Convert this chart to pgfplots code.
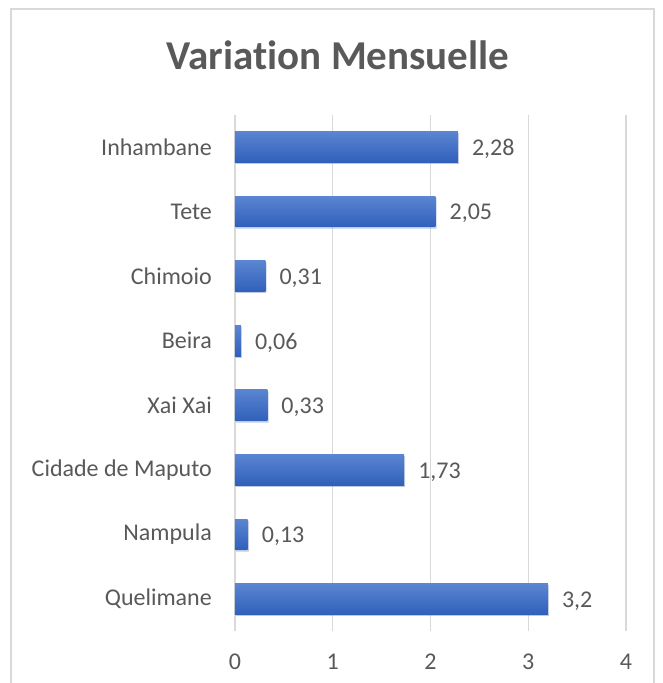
\documentclass[border=0pt]{standalone}
\usepackage{fontspec}
\setmainfont{Carlito}[RawFeature={-liga,-clig,-dlig}]
\usepackage{pgfplots}
\pgfplotsset{compat=1.18}
\usetikzlibrary{shadows}
\definecolor{txt}{HTML}{595959}
\definecolor{gridc}{HTML}{D9D9D9}
\definecolor{bartop}{HTML}{5A85D1}
\definecolor{barbot}{HTML}{3060BB}

\pgfplotsset{
  mybar/.style={xbar, bar width=30.7pt, bar shift=0pt, draw=none,
    top color=bartop, bottom color=barbot,
    drop shadow={opacity=0.2, shadow xshift=1pt, shadow yshift=-1.5pt},
    point meta=explicit symbolic, nodes near coords,
    nodes near coords style={anchor=west, xshift=14pt, yshift=-2pt, inner sep=0pt,
      text=txt, font=\fontsize{24}{28}\selectfont}},
}

\begin{document}
\begin{tikzpicture}[x=1pt,y=1pt]
\useasboundingbox (0,0) rectangle (663,683);
\fill[white] (0,0) rectangle (663,683);
\draw[gridc, line width=1.2pt] (11,-5) -- (11,674) -- (654,674) -- (654,-5);
\node[anchor=base, text=txt, font=\fontsize{41}{49}\selectfont\bfseries, inner sep=0pt] at (338,613) {Variat\kern0pt ion Mensuelle};
\begin{axis}[
  at={(235pt,51.7pt)}, anchor=south west,
  scale only axis, width=391pt, height=516.6pt,
  xmin=0, xmax=4, ymin=-0.5, ymax=7.5,
  xtick={0,1,2,3,4},
  ytick={0,...,7},
  yticklabels={Quelimane, Nampula, Cidade de Maputo, Xai Xai, {Beira\hspace{6pt}}, Chimoio, Tete, Inhambane},
  axis line style={draw=none},
  major tick length=0pt,
  xmajorgrids, grid style={gridc, line width=1.2pt},
  ticklabel style={font=\fontsize{24}{28}\selectfont, text=txt, inner sep=0pt},
  /pgf/number format/assume math mode=true,
  xticklabel style={anchor=center, yshift=-30pt},
  yticklabel style={anchor=east, xshift=-23pt},
  clip=false,
]
% one plot per category so that every bar gets its own shading
\addplot[mybar] coordinates {(3.20,0) [3,2]};
\addplot[mybar] coordinates {(0.13,1) [0,13]};
\addplot[mybar] coordinates {(1.73,2) [1,73]};
\addplot[mybar] coordinates {(0.33,3) [0,33]};
\addplot[mybar] coordinates {(0.06,4) [0,06]};
\addplot[mybar] coordinates {(0.31,5) [0,31]};
\addplot[mybar] coordinates {(2.05,6) [2,05]};
\addplot[mybar] coordinates {(2.28,7) [2,28]};
\end{axis}
\end{tikzpicture}
\end{document}
